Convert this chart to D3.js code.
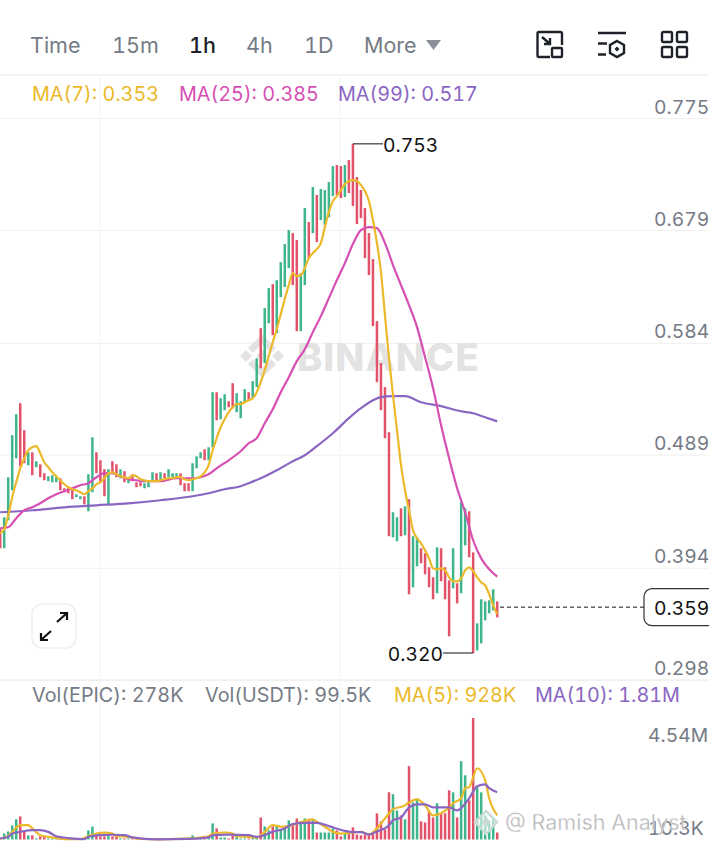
<!DOCTYPE html>
<html>
<head>
<meta charset="utf-8">
<script src="https://cdn.jsdelivr.net/npm/d3@7"></script>
<style>
html,body{margin:0;padding:0;background:#fff;overflow:hidden;}
svg{display:block;font-variant-numeric:tabular-nums;font-feature-settings:"tnum";}
</style>
</head>
<body>
<div id="chart"></div>
<script>
// hourly candles, left to right (r = down, g = up)
var candleDir = "rggggrrgrg"+"rrgggrrrrg"+"grggrrrgrr"+"grgrrrgggr"+"grgggrrrgg"+"grggrggrrg"+"ggrggrggrg"+"gggrrggrgr"+"ggggrrgrrr"+"rrrrrrrrgg"+"rgrggrrrrg"+"rrrgrggrrg"+"ggggr";
var candleHigh = [
 .4261,.4354,.4695,.5052,.5231,.5324,.5095,.4907,.4907,.4831,
 .4805,.4729,.4703,.4712,.4695,.4686,.4601,.4610,.4593,.4550,
 .4533,.4533,.4720,.5035,.4907,.4839,.4763,.4763,.4831,.4805,
 .4763,.4746,.4686,.4703,.4652,.4652,.4644,.4652,.4737,.4729,
 .4737,.4729,.4763,.4729,.4729,.4729,.4644,.4644,.4814,.4873,
 .4907,.4933,.4950,.5418,.5418,.5367,.5401,.5341,.5495,.5410,
 .5341,.5444,.5418,.5512,.5707,.5963,.6133,.6303,.6337,.6371,
 .6524,.6678,.6797,.6771,.6712,.6431,.6984,.6865,.7163,.7095,
 .7146,.7137,.7205,.7341,.7350,.7341,.7350,.7392,.7530,.7248,
 .7137,.6984,.6771,.6550,.6022,.5665,.5461,.5078,.4397,.4354,
 .4431,.4448,.4508,.4193,.4184,.4091,.4048,.3929,.3844,.4099,
 .4091,.3929,.3818,.4091,.3793,.4482,.4431,.4405,.4056,.3452,
 .3657,.3639,.3648,.3742,.3639];
var candleLow = [
 .4091,.4091,.4329,.4584,.4856,.4788,.4814,.4797,.4712,.4780,
 .4695,.4669,.4661,.4652,.4652,.4584,.4567,.4559,.4508,.4525,
 .4508,.4465,.4405,.4567,.4729,.4652,.4533,.4456,.4720,.4695,
 .4686,.4652,.4644,.4661,.4610,.4618,.4601,.4610,.4669,.4669,
 .4669,.4686,.4695,.4695,.4695,.4627,.4576,.4576,.4576,.4771,
 .4856,.4839,.4839,.4950,.5180,.5188,.5265,.5290,.5282,.5248,
 .5197,.5333,.5350,.5367,.5461,.5622,.5665,.6005,.5903,.5920,
 .6227,.6312,.6473,.6329,.5937,.5937,.6329,.6558,.6771,.6695,
 .6882,.6839,.6907,.7086,.7095,.7069,.7078,.7112,.7001,.6848,
 .6899,.6558,.6414,.5980,.5503,.5265,.5027,.4193,.4184,.4150,
 .4193,.4201,.3699,.3759,.3937,.3963,.3869,.3759,.3657,.3708,
 .3810,.3657,.3342,.3750,.3622,.3708,.4116,.4014,.3200,.3222,
 .3282,.3478,.3537,.3563,.3503];
var volume = [
 .05,.29,.39,.68,.98,1.12,.39,.20,.20,.05,
 .15,.15,.05,.05,.05,.05,.05,.05,.05,.05,
 .05,.05,.44,.63,.20,.15,.15,.20,.15,.15,
 .05,.05,.05,.05,.05,.05,.05,.05,.05,.05,
 .05,.05,.05,.05,.05,.05,.05,.05,.20,.10,
 .07,.07,.10,.78,.54,.10,.10,.05,.20,.15,
 .05,.05,.05,.10,.10,1.07,.63,.44,.63,.63,
 .49,.54,.93,.78,1.02,.88,1.02,.93,.98,.34,
 .34,.34,.34,.54,.44,.15,.29,.34,.59,.24,
 .20,.24,.29,.29,1.27,.88,.49,2.29,2.20,1.41,
 1.17,.98,3.56,1.80,2.00,.88,.83,1.41,1.07,1.76,
 1.27,1.27,2.39,2.29,1.07,3.80,3.12,1.90,5.90,2.54,
 2.29,1.17,.78,1.02,.34];

// MA(7) per candle
var ma7 = [
 .4218,.4252,.4371,.4525,.4652,.4771,.4856,.4924,.4950,.4959,
 .4899,.4822,.4780,.4737,.4703,.4669,.4635,.4610,.4593,.4584,
 .4567,.4550,.4576,.4601,.4635,.4652,.4686,.4729,.4737,.4720,
 .4703,.4695,.4686,.4712,.4703,.4678,.4669,.4661,.4661,.4661,
 .4669,.4678,.4686,.4686,.4695,.4695,.4678,.4669,.4678,.4686,
 .4703,.4737,.4797,.4924,.5027,.5120,.5188,.5248,.5290,.5316,
 .5316,.5333,.5350,.5367,.5418,.5503,.5605,.5724,.5844,.5954,
 .6082,.6210,.6329,.6431,.6405,.6414,.6473,.6558,.6601,.6635,
 .6686,.6822,.6950,.7043,.7086,.7137,.7188,.7214,.7222,.7214,
 .7180,.7129,.7043,.6882,.6686,.6439,.6073,.5707,.5393,.5095,
 .4797,.4584,.4414,.4244,.4176,.4133,.4073,.4005,.3920,.3912,
 .3920,.3903,.3844,.3810,.3810,.3835,.3903,.3929,.3895,.3844,
 .3801,.3776,.3699,.3605,.3530];
// MA(25), read every few candles
var ma25Index = [0,2,4,6,8,10,12,14,16,18,20,22,24,26,28,30,32,34,36,40,44,48,52,54,57,60,62,64,66,68,70,72,74,76,78,80,82,84,86,88,90,92,94,96,98,100,102,104,106,108,110,112,114,116,118,120,122,124];
var ma25 = [.4261,.4269,.4346,.4414,.4439,.4473,.4516,.4550,.4576,.4601,.4627,.4644,.4695,.4729,.4729,.4703,.4678,.4669,.4661,.4661,.4686,.4686,.4720,.4771,.4839,.4916,.4984,.5027,.5154,.5273,.5418,.5546,.5682,.5784,.5929,.6065,.6218,.6371,.6516,.6678,.6797,.6822,.6814,.6686,.6499,.6329,.6158,.5971,.5716,.5452,.5137,.4856,.4601,.4397,.4159,.4005,.3912,.3850];
// MA(99)
var ma99Index = [0,8,16,24,32,40,48,52,56,60,62,65,69,73,76,79,83,87,90,93,95,98,101,105,110,115,118,121,124];
var ma99 = [.4397,.4414,.4439,.4456,.4473,.4499,.4533,.4559,.4593,.4618,.4644,.4686,.4754,.4831,.4882,.4959,.5069,.5197,.5282,.5350,.5376,.5384,.5384,.5333,.5299,.5256,.5239,.5205,.5170];
// volume MAs (millions)
var volMa5Index = [0,2,3,5,7,8,10,12,14,16,20,22,24,26,28,29,32,35,40,48,50,52,53,56,58,59,62,64,66,68,70,72,74,76,78,79,81,83,85,88,90,92,94,96,98,101,102,104,106,108,110,112,113,115,116,117,119,121,122,124];
var volMa5 = [.05,.16,.37,.70,.70,.54,.21,.13,.07,.02,.02,.16,.29,.33,.29,.16,.13,.03,.01,.05,.10,.16,.29,.34,.29,.16,.13,.10,.37,.70,.62,.65,.78,.91,.98,.86,.62,.37,.29,.34,.37,.24,.54,1.02,1.46,1.66,1.80,1.95,1.66,1.17,1.27,1.56,1.76,2.00,2.49,2.54,3.46,2.88,2.00,1.17];
var volMa10Index = [0,2,3,5,8,10,12,14,17,21,22,25,28,31,33,39,47,52,53,57,62,64,68,71,73,76,79,82,86,88,90,92,94,97,98,100,102,104,106,108,112,114,117,119,121,122,124];
var volMa10 = [.05,.13,.29,.37,.46,.46,.37,.16,.07,.02,.13,.21,.23,.21,.10,.01,.03,.10,.21,.24,.21,.13,.37,.54,.75,.81,.81,.65,.42,.36,.36,.24,.39,.68,.93,1.07,1.56,1.71,1.71,1.56,1.56,1.41,2.00,2.59,2.68,2.49,2.29];

// gridline prices are not the rounded labels, so both are kept
var priceTicks = [0.775,0.6797,0.5838,0.4887,0.3925,0.2971];
var priceTickLabels = ["0.775","0.679","0.584","0.489","0.394","0.298"];
var volTicks = [4.54,0.0103];
var volTickLabels = ["4.54M","10.3K"];
var timeTabs = ["Time","15m","1h","4h","1D","More"];
var timeTabX = [30,112,189,246,304,364];
var lastPrice = 0.359, highPrice = 0.753, lowPrice = 0.320;
var highIndex = 88, lowIndex = 118;

var width = 709, height = 847;
var UI_FONT = "Inter, sans-serif";
var AXIS_SIZE = 19.3;
var RED = "#e2536b", GREEN = "#3fb58c", YELLOW = "#ebb92a", PINK = "#d64fb2", PURPLE = "#8a66c2";
var GREY = "#757b85", GRID = "#f0f0f0";

var svg = d3.select("#chart")
    .append("svg")
    .attr("width",width)
    .attr("height",height)
    .attr("font-family",UI_FONT);

var x = d3.scaleLinear().domain([0,124]).range([0.2,497.2]);
var y = d3.scaleLinear().domain([0.775,0.320]).range([118,653]);
var yVol = d3.scaleLinear().domain([0,4.54]).range([839.5,746]);

// separators and vertical grid
svg.append("line").attr("x1",0).attr("x2",width).attr("y1",75).attr("y2",75).attr("stroke",GRID).attr("stroke-width",1.5);
svg.append("line").attr("x1",0).attr("x2",width).attr("y1",680).attr("y2",680).attr("stroke",GRID).attr("stroke-width",1.5);
svg.selectAll(".vgrid").data([100,340]).enter().append("line")
    .attr("x1",d=>d).attr("x2",d=>d).attr("y1",76).attr("y2",840)
    .attr("stroke","#f3f3f3");

// price axis
var priceAxis = svg.append("g")
    .call(d3.axisRight(y).tickValues(priceTicks).tickFormat((d,i)=>priceTickLabels[i]).tickSize(width));
priceAxis.select(".domain").remove();
priceAxis.selectAll("line").attr("stroke",GRID);
priceAxis.selectAll("text")
    .attr("x",654).attr("dy",-5)
    .attr("font-size",AXIS_SIZE).attr("font-family",UI_FONT).attr("fill",GREY);

// watermark
var wm = svg.append("g").attr("fill","#e3e3e3");
wm.append("text").attr("x",297).attr("y",371).attr("font-size",38).attr("font-weight",800).attr("letter-spacing",1.1).text("BINANCE");
wm.append("path").attr("d","M262,350L268,356L262,362L256,356Z");
wm.append("path").attr("d","M246,350L252,356L246,362L240,356Z");
wm.append("path").attr("d","M278,350L284,356L278,362L272,356Z");
wm.append("path").attr("d","M262,334L276,348L271,353L262,344L253,353L248,348Z");
wm.append("path").attr("d","M262,378L276,364L271,359L262,368L253,359L248,364Z");

// candles
svg.append("g").selectAll("rect")
    .data(candleHigh)
    .enter().append("rect")
    .attr("x",(d,i)=>x(i)-1.25)
    .attr("width",2.5)
    .attr("y",d=>y(d))
    .attr("height",(d,i)=>y(candleLow[i])-y(d))
    .attr("fill",(d,i)=>candleDir[i]=="g"?GREEN:RED);

// price MAs
var linePrice = d3.line().x(d=>x(d[0])).y(d=>y(d[1])).curve(d3.curveMonotoneX);
function pairs(idx,vals){ return idx.map((k,i)=>[k,vals[i]]); }
function drawLine(pts,gen,color){
    svg.append("path").attr("d",gen(pts)).attr("fill","none").attr("stroke",color)
        .attr("stroke-width",2.2).attr("stroke-linejoin","round");
}
drawLine(pairs(ma99Index,ma99),linePrice,PURPLE);
drawLine(pairs(ma25Index,ma25),linePrice,PINK);
drawLine(ma7.map((v,i)=>[i,v]),linePrice,YELLOW);

// high / low callouts
svg.append("line").attr("x1",x(highIndex)).attr("x2",383).attr("y1",y(highPrice)).attr("y2",y(highPrice)).attr("stroke","#111");
svg.append("text").attr("x",383).attr("y",y(highPrice)+8).attr("font-size",AXIS_SIZE).attr("fill","#111").text(d3.format(".3f")(highPrice));
svg.append("line").attr("x1",443).attr("x2",x(lowIndex)).attr("y1",y(lowPrice)).attr("y2",y(lowPrice)).attr("stroke","#111");
svg.append("text").attr("x",443).attr("y",y(lowPrice)+8).attr("text-anchor","end").attr("font-size",AXIS_SIZE).attr("fill","#111").text(d3.format(".3f")(lowPrice));

// last price
svg.append("line").attr("x1",500).attr("x2",644).attr("y1",y(lastPrice)).attr("y2",y(lastPrice))
    .attr("stroke","#111").attr("stroke-dasharray","4,3");
svg.append("rect").attr("x",644).attr("y",y(lastPrice)-18.5).attr("width",80).attr("height",37).attr("rx",8)
    .attr("fill","#fff").attr("stroke","#333").attr("stroke-width",1.2);
svg.append("text").attr("x",654).attr("y",y(lastPrice)+7.5).attr("font-size",AXIS_SIZE).attr("fill","#111").text(d3.format(".3f")(lastPrice));

// volume
svg.append("g").selectAll("rect")
    .data(volume)
    .enter().append("rect")
    .attr("x",(d,i)=>x(i)-1.25)
    .attr("width",2.5)
    .attr("y",d=>yVol(d))
    .attr("height",d=>yVol(0)-yVol(d))
    .attr("fill",(d,i)=>candleDir[i]=="g"?GREEN:RED);
var lineVol = d3.line().x(d=>x(d[0])).y(d=>yVol(d[1])).curve(d3.curveMonotoneX);
drawLine(pairs(volMa5Index,volMa5),lineVol,YELLOW);
drawLine(pairs(volMa10Index,volMa10),lineVol,PURPLE);

var volAxis = svg.append("g")
    .call(d3.axisRight(yVol).tickValues(volTicks).tickFormat((d,i)=>volTickLabels[i]).tickSize(0));
volAxis.select(".domain").remove();
volAxis.selectAll("text")
    .attr("x",d=>d>1?648:648).attr("dy",-5)
    .attr("font-size",AXIS_SIZE).attr("font-family",UI_FONT).attr("fill",GREY);

// legends
function legend(txt,px,py,color){
    svg.append("text").attr("x",px).attr("y",py).attr("font-size",19.8).attr("fill",color).text(txt);
}
legend("MA(7): 0.353",32,101,YELLOW);
legend("MA(25): 0.385",179,101,PINK);
legend("MA(99): 0.517",338,101,PURPLE);
legend("Vol(EPIC): 278K",32,702,GREY);
legend("Vol(USDT): 99.5K",205,702,GREY);
legend("MA(5): 928K",394,702,YELLOW);
legend("MA(10): 1.81M",535,702,PURPLE);

// time tabs
svg.append("g").selectAll("text")
    .data(timeTabs)
    .enter().append("text")
    .attr("x",(d,i)=>timeTabX[i])
    .attr("y",53)
    .attr("font-size",21.5)
    .attr("fill",d=>d=="1h"?"#1e2329":GREY)
    .attr("font-weight",d=>d=="1h"?500:400)
    .text(d=>d);
svg.append("path").attr("d","M426,40L441,40L433.5,50Z").attr("fill","#8a8f98");

// toolbar icons
var icons = svg.append("g").attr("fill","none").attr("stroke","#1e2329").attr("stroke-width",2.4);
icons.append("path").attr("d","M550,57H539Q537.5,57 537.5,55.5V33.5Q537.5,32 539,32H560.5Q562,32 562,33.5V45");
icons.append("rect").attr("x",552).attr("y",48).attr("width",10).attr("height",9).attr("rx",1);
icons.append("path").attr("d","M542,37L550,44M550,38V44H544");
icons.append("path").attr("d","M598,33H626M598,43.5H607M598,54.5H606");
icons.append("path").attr("d","M617,41L624,45V53L617,57L610,53V45Z");
icons.append("path").attr("d","M617,46.5L619.5,49L617,51.5L614.5,49Z").attr("fill","#1e2329").attr("stroke","none");
[[662,32],[677,32],[662,47],[677,47]].forEach(function(d){
    icons.append("rect").attr("x",d[0]).attr("y",d[1]).attr("width",10).attr("height",10).attr("rx",1.5);
});

// expand button
svg.append("rect").attr("x",32).attr("y",604).attr("width",44).attr("height",44).attr("rx",10)
    .attr("fill","#fff").attr("stroke","#efefef").attr("stroke-width",1.5);
svg.append("path").attr("fill","none").attr("stroke","#111").attr("stroke-width",2.2)
    .attr("d","M57,622L67,613M60,613H67V620M51,631L41,640M48,640H41V633");

// author watermark
var mark = svg.append("g");
mark.append("path").attr("d","M486,811L497,822L486,834L475,822Z").attr("fill","#fff").attr("fill-opacity",.55).attr("stroke","#c9dcd6").attr("stroke-width",2.5);
mark.append("path").attr("d","M486,817L491,822L486,828L481,822Z").attr("fill","#c9dcd6");
mark.append("text").attr("x",505).attr("y",830).attr("font-size",21.5).attr("fill","#b8b8b8")
    .attr("stroke","#fff").attr("stroke-width",.3).text("@ Ramish Analyst");
</script>
</body>
</html>
